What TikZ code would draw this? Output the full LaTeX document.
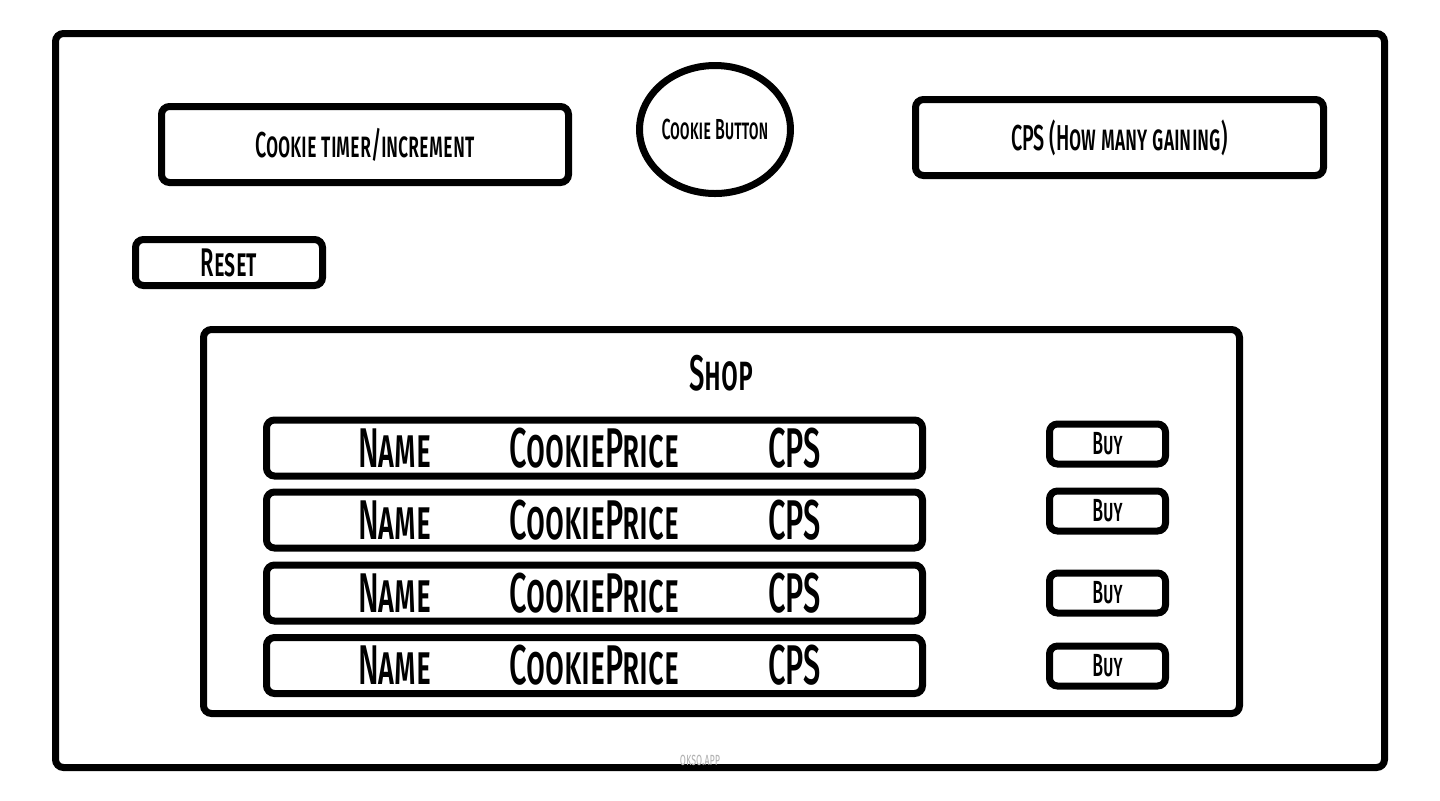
\documentclass[tikz,border=0pt]{standalone}
\usepackage{fontspec}
\setmainfont{Fira Sans}[FakeStretch=0.55, BoldFont={* Medium}]
\usepackage{tikz}
\usetikzlibrary{shapes.geometric}
\usetikzlibrary{positioning}
\tikzstyle{wire}=[draw, line width=3.5pt, rounded corners=4pt, inner sep=0pt, font=\bfseries\scshape]
\tikzstyle{wbox}=[wire, font=\fontsize{18}{20}\selectfont\bfseries\scshape]
\tikzstyle{rowbox}=[wire, minimum width=328pt, minimum height=28pt, font=\fontsize{28}{30}\selectfont\bfseries\scshape]
\tikzstyle{buybox}=[wire, minimum width=58pt, minimum height=20pt, font=\fontsize{16}{17}\selectfont\bfseries\scshape]
\newcommand{\shoprow}{\makebox[100pt]{Name}\makebox[100pt]{CookiePrice}\makebox[100pt]{CPS}}

\begin{document}
\begin{tikzpicture}[x=0.5pt, y=-0.5pt]
        \useasboundingbox (0, 0) rectangle (1440, 800);
        \node[wire, minimum width=664.5pt, minimum height=367pt] (Frame) at (720, 400.5) {};
        \node[wbox, minimum width=203.5pt, minimum height=38pt] (Timer) at (365, 144.5) {Cookie timer/increment};
        \node[wire, ellipse, minimum width=71.5pt, minimum height=64pt, font=\fontsize{14.5}{15}\selectfont\bfseries\scshape] (Cookie) at (715, 129.5) {Cookie Button};
        \node[wbox, minimum width=204pt, minimum height=38pt] (CPS) at (1119.5, 137.5) {CPS (How many gaining)};
        \node[wire, minimum width=93.5pt, minimum height=23pt, font=\fontsize{20}{21}\selectfont\bfseries\scshape] (Reset) at (229, 262.5) {Reset};
        \node[wire, minimum width=518pt, minimum height=192pt] (Shop) at (721.5, 521.5) {};
        \node[font=\fontsize{25}{26}\selectfont\bfseries\scshape, below=11pt of Shop.north] (ShopTitle) {Shop};
        \node[rowbox] (R1) at (594.5, 448) {\shoprow};
        \node[rowbox] (R2) at (594.5, 520) {\shoprow};
        \node[rowbox] (R3) at (594.5, 593) {\shoprow};
        \node[rowbox] (R4) at (594.5, 665.5) {\shoprow};
        \node[buybox] (B1) at (1107.5, 444) {Buy};
        \node[buybox] (B2) at (1107.5, 511) {Buy};
        \node[buybox] (B3) at (1107.5, 593) {Buy};
        \node[buybox] (B4) at (1107.5, 666) {Buy};
        \node[text=black!30, font=\fontsize{9}{10}\selectfont\scshape] (Mark) at (700, 760) {okso.app};
    \end{tikzpicture}
\end{document}
